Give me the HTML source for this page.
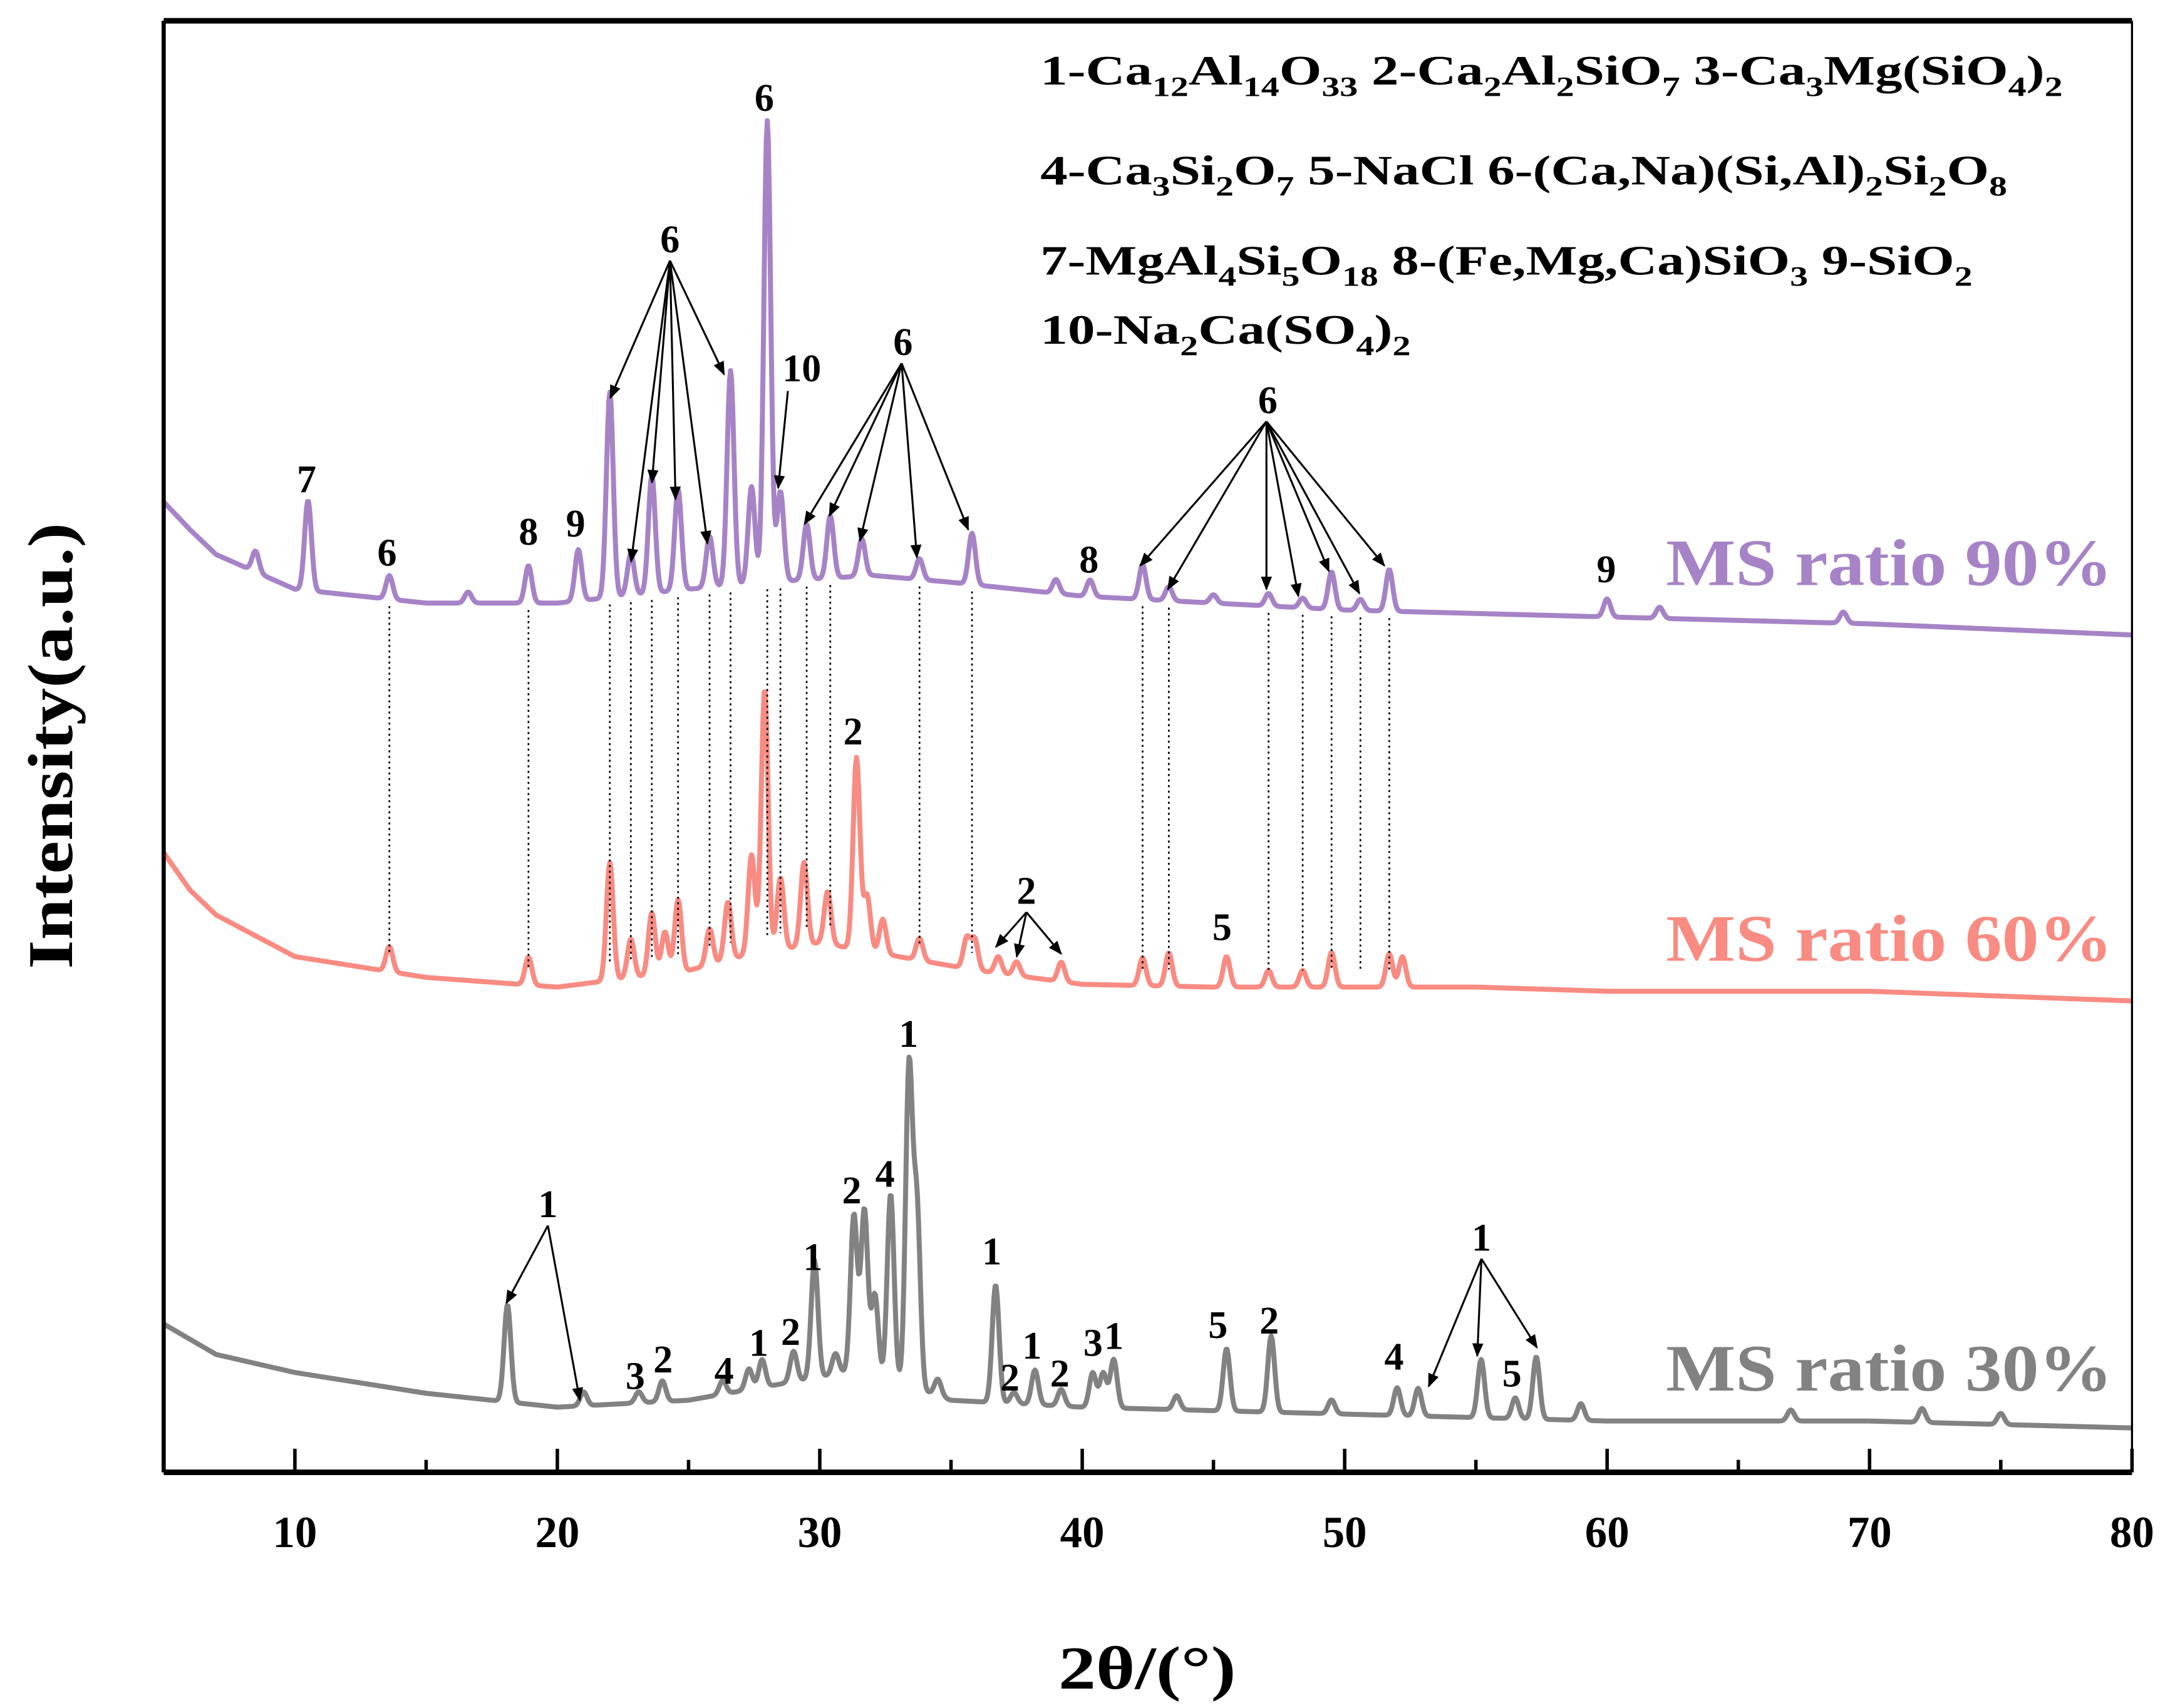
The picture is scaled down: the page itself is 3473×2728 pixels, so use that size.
<!DOCTYPE html>
<html><head><meta charset="utf-8"><style>
html,body{margin:0;padding:0;background:#fff;}
svg{display:block;}
text{font-family:"Liberation Serif",serif;font-weight:bold;}
</style></head><body>
<svg width="3473" height="2728" viewBox="0 0 1568 1232" preserveAspectRatio="none" xmlns="http://www.w3.org/2000/svg">
<g id="plot"></g>
</svg>
<script>
// ---- data ----
const xTicks = [10,20,30,40,50,60,70,80];
const minorTicks = [5,15,25,35,45,55,65,75];
// baselines: [2theta, height above axis]
const base30 = [[5,107],[7,85],[10,72],[15,57],[20,47],[25,52],[28,62],[31,72],[33,65],[35,52],[40,47],[50,42],[60,37],[70,37],[80,32]];
const base60 = [[5,447],[6,420],[7,402],[10,372],[15,357],[20,350],[25,362],[27,372],[30,382],[33,372],[36,362],[40,352],[45,350],[50,350],[55,350],[60,347],[70,347],[80,340]];
const base90 = [[5,700],[6,680],[7,662],[10,637],[15,627],[20,627],[25,637],[28,642],[32,647],[35,642],[40,632],[45,627],[50,622],[60,617],[70,612],[80,604]];
// peaks: [2theta, height above baseline]
const peaks30 = [[18.1,70],[21,10],[23.1,8],[24,15],[26.3,10],[27.3,15],[27.8,20],[29,22],[29.8,85],[30.6,15],[31.3,115],[31.7,120],[32.1,60],[32.7,135],[33.4,228],[33.7,130],[34.5,12],[36.7,85],[37.4,8],[38.2,25],[39.2,12],[40.4,25],[40.8,25],[41.2,35],[43.6,10],[45.5,45],[47.2,55],[49.5,10],[52,20],[52.8,20],[55.2,42],[56.5,15],[57.3,45],[59,12],[67,8],[72,10],[75,8]];
const peaks60 = [[13.6,18],[18.9,20],[22,85],[22.8,28],[23.6,45],[24.1,30],[24.6,52],[25.8,26],[26.5,42],[27.4,72],[27.9,190],[28.5,52],[29.4,60],[30.3,38],[31.4,138],[31.8,40],[32.4,25],[33.8,16],[35.6,22],[35.9,22],[36.8,12],[37.5,10],[39.2,14],[42.3,20],[43.3,24],[45.5,22],[47.1,12],[48.4,12],[49.5,25],[51.7,24],[52.2,22]];
const peaks90 = [[8.5,15],[10.5,65],[13.6,17],[16.6,8],[18.9,27],[20.8,37],[22,148],[22.8,30],[23.6,85],[24.6,73],[25.8,37],[26.6,155],[27.4,70],[28,333],[28.5,65],[29.5,40],[30.4,45],[31.6,27],[33.8,15],[35.8,37],[39,10],[40.3,12],[42.3,25],[43.3,10],[45,6],[47.1,9],[48.4,7],[49.5,27],[50.6,8],[51.7,30],[60,13],[62,8],[69,8]];
const dotted6 = [13.6,18.9,22,22.8,23.6,24.6,25.8,26.6,28,28.5,29.5,30.4,33.8,35.8,42.3,43.3,47.1,48.4,49.5,50.6,51.7];
// ---- axes ----
const X0=118,X1=1537,Y0=1062,YT=15,XMIN=5,XMAX=80;
const xs=v=>X0+(v-XMIN)/(XMAX-XMIN)*(X1-X0);
const ys=h=>Y0-h;
const NS="http://www.w3.org/2000/svg";
const g=document.getElementById('plot');
function mk(tag,attrs,parent){const e=document.createElementNS(NS,tag);for(const k in attrs)e.setAttribute(k,attrs[k]);(parent||g).appendChild(e);return e;}
function interp(b,x){for(let i=0;i<b.length-1;i++){if(x>=b[i][0]&&x<=b[i+1][0]){const t=(x-b[i][0])/(b[i+1][0]-b[i][0]);return b[i][1]+t*(b[i+1][1]-b[i][1]);}}return b[b.length-1][1];}
function series(base,pk,color,name){
  let d='';
  for(let x=XMIN;x<=XMAX+1e-9;x+=0.04){
    let h=interp(base,x);
    for(const p of pk){const w=0.13;h+=p[1]*Math.exp(-Math.pow((x-p[0])/w,2)/2);}
    d+=(d?'L':'M')+xs(x).toFixed(2)+','+ys(h).toFixed(2);
  }
  const e=mk('path',{d:d,fill:'none',stroke:color,'stroke-width':3.6,'stroke-linejoin':'round'});
  
  
}
series(base30,peaks30,'#828282','series-ms-30');
series(base60,peaks60,'#f98b82','series-ms-60');
series(base90,peaks90,'#a683c6','series-ms-90');
// dotted guide lines
for(const v of dotted6){
  const y1=ys(interp(base90,v))+5, y2=ys(interp(base60,v))-12;
  const e=mk('line',{x1:xs(v),x2:xs(v),y1:y1,y2:y2,stroke:'#000','stroke-width':1.2,'stroke-dasharray':'1.5,2.5'});
  
  
}
// frame
let fr=mk('line',{x1:X0,x2:X1,y1:Y0,y2:Y0,stroke:'#000','stroke-width':4});

fr=mk('line',{x1:X0,x2:X0,y1:YT,y2:Y0,stroke:'#000','stroke-width':3});

fr=mk('line',{x1:X0,x2:X1,y1:YT,y2:YT,stroke:'#000','stroke-width':4});

fr=mk('line',{x1:X1,x2:X1,y1:YT,y2:Y0,stroke:'#000','stroke-width':1.5});

for(const v of xTicks){
  const t=mk('line',{x1:xs(v),x2:xs(v),y1:Y0,y2:Y0-17,stroke:'#000','stroke-width':2.5});
  
  const l=mk('text',{x:xs(v),y:1116,'font-size':32,'text-anchor':'middle'});l.textContent=v;
  
}
for(const v of minorTicks){
  const t=mk('line',{x1:xs(v),x2:xs(v),y1:Y0,y2:Y0-9,stroke:'#000','stroke-width':2.5});
  
}
// peak labels [text,x,y]
const labels=[["7",221,355],["6",279,408],["8",381,393],["9",415,387],["6",483,182],["6",551,80],["10",578,275],["6",651,256],["8",785,413],["6",914,298],["9",1158,420],
["2",615,537],["2",740,652],["5",881,678],
["1",395,878],["1",655,755],["2",614,868],["4",638,856],["1",586,916],["1",715,912],["3",458,1002],["2",478,990],["4",522,998],["1",547,978],["2",570,970],["2",728,1003],["1",744,980],["2",764,1000],["3",788,978],["1",803,973],["5",878,965],["2",915,962],["4",1005,988],["1",1068,902],["5",1090,1000]];
for(const L of labels){
  const t=mk('text',{x:L[1],y:L[2],'font-size':28,'text-anchor':'middle'});t.textContent=L[0];
  
}
// arrows [x1,y1,x2,y2]
mk('defs',{}).innerHTML='<marker id="ah" markerWidth="10" markerHeight="8" refX="9" refY="4" orient="auto" markerUnits="userSpaceOnUse"><path d="M0,0L10,4L0,8z" fill="#000"/></marker>';
const arrows=[[483,188,440,287],[483,188,455,405],[483,188,470,348],[483,188,487,360],[483,188,510,392],[483,188,522,270],[568,282,561,352],
[650,262,580,378],[650,262,598,372],[650,262,620,390],[650,262,661,402],[650,262,698,382],
[913,304,822,408],[913,304,842,425],[913,304,913,425],[913,304,936,430],[913,304,958,412],[913,304,980,428],[913,304,998,408],
[740,658,718,683],[740,658,733,690],[740,658,765,688],
[395,884,365,940],[395,884,418,1010],[1068,908,1030,1000],[1068,908,1065,978],[1068,908,1108,972]];
for(const a of arrows){
  const e=mk('line',{x1:a[0],y1:a[1],x2:a[2],y2:a[3],stroke:'#000','stroke-width':1.4,'marker-end':'url(#ah)'});
  
}
const legTexts=[
[61,'1-Ca<tspan dy="8" font-size="20">12</tspan><tspan dy="-8">Al</tspan><tspan dy="8" font-size="20">14</tspan><tspan dy="-8">O</tspan><tspan dy="8" font-size="20">33</tspan><tspan dy="-8"> 2-Ca</tspan><tspan dy="8" font-size="20">2</tspan><tspan dy="-8">Al</tspan><tspan dy="8" font-size="20">2</tspan><tspan dy="-8">SiO</tspan><tspan dy="8" font-size="20">7</tspan><tspan dy="-8"> 3-Ca</tspan><tspan dy="8" font-size="20">3</tspan><tspan dy="-8">Mg(SiO</tspan><tspan dy="8" font-size="20">4</tspan><tspan dy="-8">)</tspan><tspan dy="8" font-size="20">2</tspan>',737],
[133,'4-Ca<tspan dy="8" font-size="20">3</tspan><tspan dy="-8">Si</tspan><tspan dy="8" font-size="20">2</tspan><tspan dy="-8">O</tspan><tspan dy="8" font-size="20">7</tspan><tspan dy="-8"> 5-NaCl 6-(Ca,Na)(Si,Al)</tspan><tspan dy="8" font-size="20">2</tspan><tspan dy="-8">Si</tspan><tspan dy="8" font-size="20">2</tspan><tspan dy="-8">O</tspan><tspan dy="8" font-size="20">8</tspan>',697],
[198,'7-MgAl<tspan dy="8" font-size="20">4</tspan><tspan dy="-8">Si</tspan><tspan dy="8" font-size="20">5</tspan><tspan dy="-8">O</tspan><tspan dy="8" font-size="20">18</tspan><tspan dy="-8"> 8-(Fe,Mg,Ca)SiO</tspan><tspan dy="8" font-size="20">3</tspan><tspan dy="-8"> 9-SiO</tspan><tspan dy="8" font-size="20">2</tspan>',672],
[248,'10-Na<tspan dy="8" font-size="20">2</tspan><tspan dy="-8">Ca(SO</tspan><tspan dy="8" font-size="20">4</tspan><tspan dy="-8">)</tspan><tspan dy="8" font-size="20">2</tspan>',267]];
for(const L of legTexts){
  const t=mk('text',{x:750,y:L[0],'font-size':30,textLength:L[2],lengthAdjust:'spacingAndGlyphs'});
  t.innerHTML=L[1];
  
}
// series names
const sn=[[422,'MS ratio 90%','#a683c6','label-ms-90'],[693,'MS ratio 60%','#f98b82','label-ms-60'],[1003,'MS ratio 30%','#828282','label-ms-30']];
for(const s of sn){
  const t=mk('text',{x:1523,y:s[0],'font-size':48,'text-anchor':'end',fill:s[2],textLength:322,lengthAdjust:'spacingAndGlyphs'});
  t.textContent=s[1];
  
}
let t=mk('text',{x:827,y:1218,'font-size':44,'text-anchor':'middle',textLength:128,lengthAdjust:'spacingAndGlyphs'});
t.textContent='2θ/(°)';

t=mk('text',{x:0,y:0,'font-size':46,'text-anchor':'middle',transform:'translate(52,538) rotate(-90)',textLength:322,lengthAdjust:'spacingAndGlyphs'});
t.textContent='Intensity(a.u.)';

</script>
</body></html>
